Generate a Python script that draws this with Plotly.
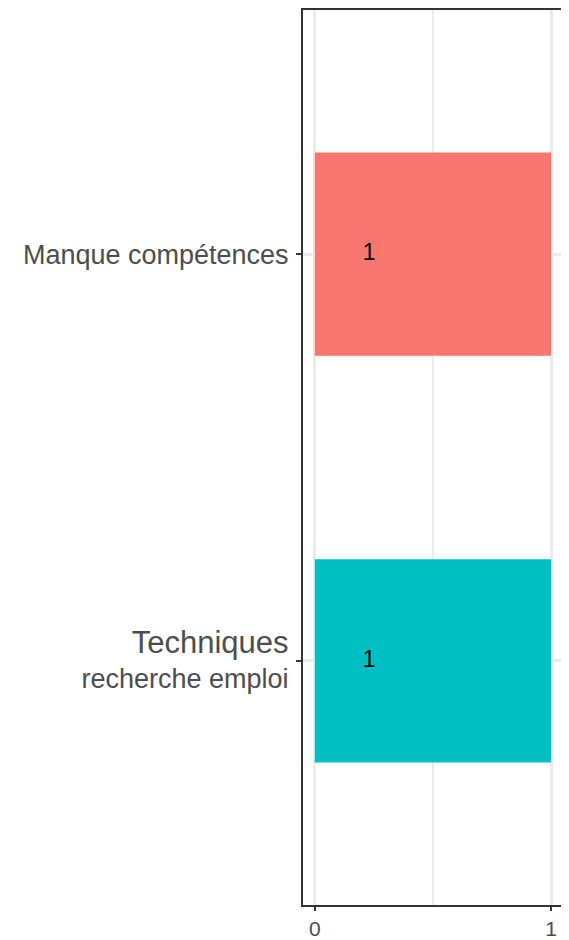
import plotly.graph_objects as go

categories = ["Techniques<br>recherche emploi", "Manque compétences"]
tick_labels = ["<span style='font-size:31px'>Techniques</span><br>recherche emploi", "Manque compétences"]
values = [1, 1]
colors = ["#00BFC4", "#F8766D"]
label_text = ["1", "1"]
label_x = 0.23
x_ticks = [0, 1]
x_tick_text = ["0", "1"]

FONT = "Liberation Sans, Arial, sans-serif"

fig = go.Figure()
fig.add_trace(go.Bar(
    y=categories, x=values, orientation="h", width=0.5,
    marker=dict(color=colors, line=dict(width=0)), showlegend=False, hoverinfo="skip"
))
fig.add_trace(go.Scatter(
    y=categories, x=[label_x] * len(values), text=label_text, mode="text",
    textfont=dict(size=23, color="black", family=FONT),
    showlegend=False, hoverinfo="skip"
))

# page body has an 8px default margin, so offsets are compensated here
fig.update_layout(
    width=561, height=932,
    margin=dict(l=295, r=6, t=2, b=35),
    plot_bgcolor="white", paper_bgcolor="white",
    font=dict(family=FONT, color="#4D4D4D"),
)
fig.update_xaxes(
    automargin=False,
    range=[-0.05, 1.05], tickvals=x_ticks, ticktext=x_tick_text,
    showgrid=True, gridcolor="#EBEBEB", gridwidth=2.5,
    minor=dict(tickvals=[0.5], showgrid=True, gridcolor="#EBEBEB", gridwidth=1.5, ticks=""),
    zeroline=False, showline=True, mirror=True, linecolor="#333333", linewidth=2,
    ticks="outside", ticklen=4, tickwidth=2, tickcolor="#333333",
    ticklabelstandoff=0,
    tickfont=dict(size=21, color="#4D4D4D"),
)
fig.update_yaxes(
    automargin=False,
    type="category", categoryorder="array", categoryarray=categories,
    tickvals=categories, ticktext=tick_labels,
    range=[-0.6, 1.6],
    showgrid=True, gridcolor="#EBEBEB", gridwidth=2.5,
    zeroline=False, showline=True, mirror=True, linecolor="#333333", linewidth=2,
    ticks="outside", ticklen=5, tickwidth=2, tickcolor="#333333",
    ticklabelstandoff=2,
    tickfont=dict(size=27, color="#4D4D4D"),
)

fig.write_html("out.html")
